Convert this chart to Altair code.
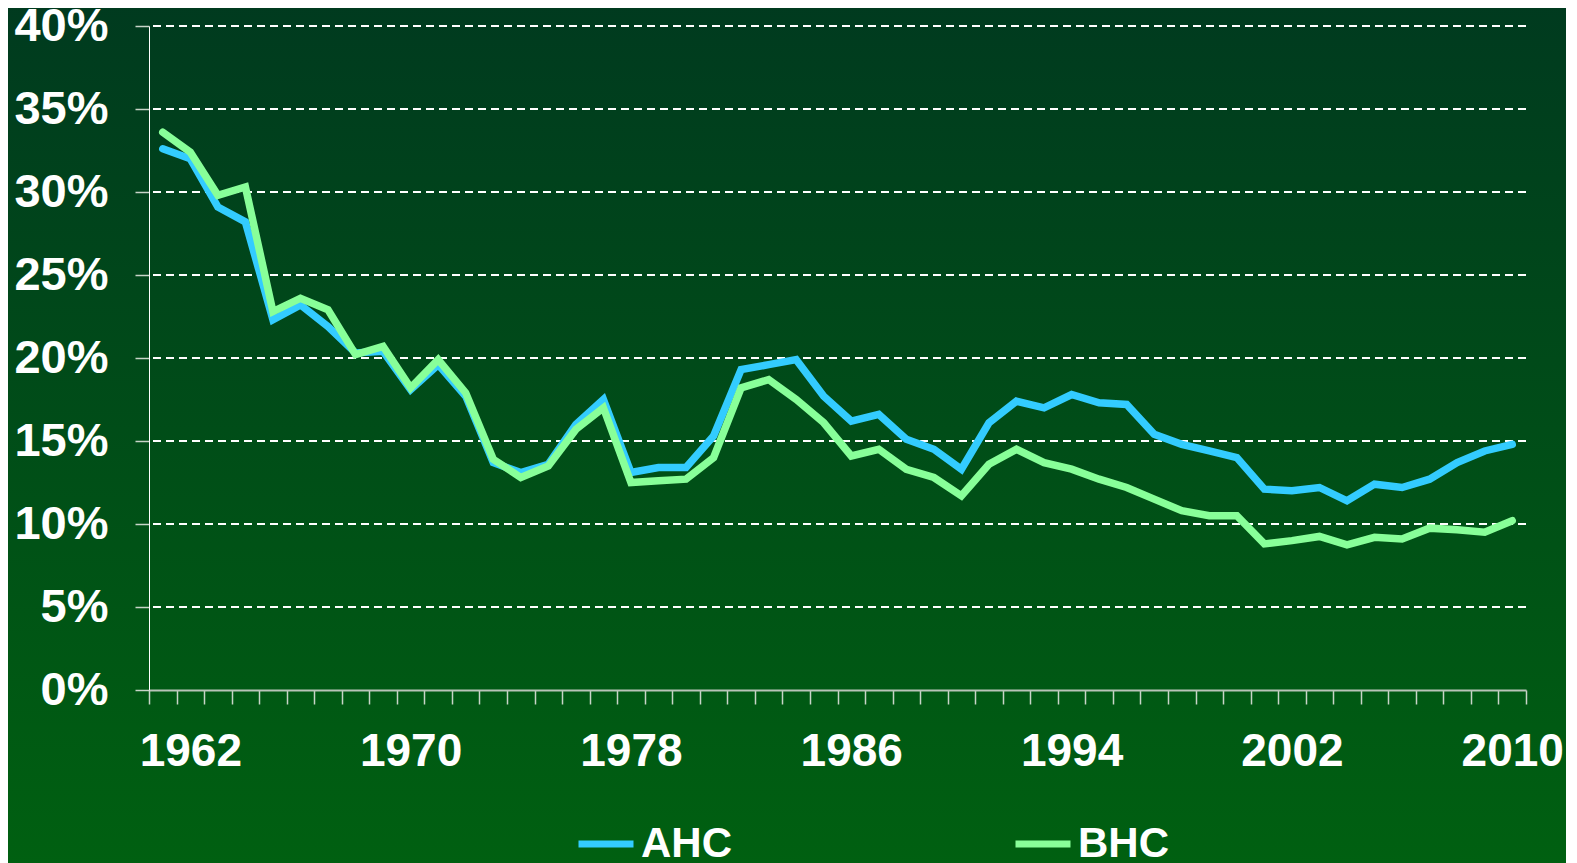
import altair as alt
import pandas as pd

years = list(range(1961, 2011))
ahc = [32.6, 32.0, 29.1, 28.2, 22.3, 23.2, 21.9, 20.3, 20.4, 18.1,
       19.6, 17.7, 13.7, 13.1, 13.6, 16.0, 17.5, 13.1, 13.4, 13.4,
       15.3, 19.3, 19.6, 19.9, 17.7, 16.2, 16.6, 15.1, 14.5, 13.3,
       16.1, 17.4, 17.0, 17.8, 17.3, 17.2, 15.4, 14.8, 14.4, 14.0,
       12.1, 12.0, 12.2, 11.4, 12.4, 12.2, 12.7, 13.7, 14.4, 14.8]
bhc = [33.6, 32.4, 29.8, 30.3, 22.8, 23.6, 22.9, 20.2, 20.7, 18.2,
       19.9, 17.9, 13.9, 12.8, 13.5, 15.7, 17.0, 12.5, 12.6, 12.7,
       14.0, 18.2, 18.7, 17.5, 16.1, 14.1, 14.5, 13.3, 12.8, 11.7,
       13.6, 14.5, 13.7, 13.3, 12.7, 12.2, 11.5, 10.8, 10.5, 10.5,
       8.8, 9.0, 9.25, 8.75, 9.2, 9.1, 9.75, 9.65, 9.5, 10.2]
series = ["AHC", "BHC"]
colors = ["#33CCFF", "#88FF99"]
y_ticks = [0, 5, 10, 15, 20, 25, 30, 35, 40]
grid_values = [5, 10, 15, 20, 25, 30, 35, 40]

rows = []
for name, vals in zip(series, [ahc, bhc]):
    for yr, v in zip(years, vals):
        rows.append({"year": yr, "value": v, "series": name})
df = pd.DataFrame(rows)

W, H = 1377, 664
FONT = "Liberation Sans"

y_scale = alt.Scale(domain=[0, 40], nice=False, zero=True)
y_axis = alt.Axis(
    title=None, values=y_ticks, labelExpr="datum.value + '%'",
    zindex=1,
    labelFont=FONT, labelFontSize=47, labelFontWeight="bold",
    labelColor="white", labelPadding=27, labelBaseline="middle",
    tickSize=14, tickColor="#c8d4c8", tickWidth=1.5,
    domainColor="white", domainWidth=1, grid=False)

bg = alt.Chart(pd.DataFrame({"a": [0]})).mark_rect(
    color=alt.LinearGradient(
        gradient="linear",
        stops=[alt.GradientStop(color="#003a1f", offset=0),
               alt.GradientStop(color="#006210", offset=1)],
        x1=0, x2=0, y1=0, y2=1),
).encode(
    x=alt.value(-160), x2=alt.value(W + 60),
    y=alt.value(-30), y2=alt.value(H + 220),
)

grid = alt.Chart(pd.DataFrame({"value": grid_values})).mark_rule(
    color="white", strokeDash=[8, 5], strokeWidth=2.2
).encode(
    y=alt.Y("value:Q", scale=y_scale, axis=y_axis),
)

lines = alt.Chart(df).mark_line(strokeWidth=7.5, strokeCap="round", strokeJoin="miter").encode(
    x=alt.X("year:O",
            scale=alt.Scale(type="band", paddingInner=0, paddingOuter=0),
            axis=alt.Axis(
                title=None, labelAngle=0, tickBand="extent", zindex=1,
                labelExpr="(toNumber(datum.value) - 1962) % 8 == 0 ? datum.label : ''",
                labelOverlap=False, labelFont=FONT, labelFontSize=46,
                labelFontWeight="bold", labelColor="white",
                labelBaseline="alphabetic", labelPadding=61, labelFlush=False,
                tickSize=14, tickColor="#c8d4c8", tickWidth=1.5,
                domainColor="#b8c4b8", domainWidth=2, grid=False)),
    y=alt.Y("value:Q", scale=y_scale, axis=y_axis),
    color=alt.Color("series:N",
                    scale=alt.Scale(domain=series, range=colors),
                    legend=alt.Legend(
                        title=None, orient="none", legendX=426, legendY=787,
                        direction="horizontal", columns=2, columnPadding=269,
                        symbolType="stroke", symbolStrokeWidth=7, symbolSize=3025,
                        labelFont=FONT, labelFontSize=42, labelFontWeight="bold",
                        labelColor="white", labelOffset=4, padding=0)),
    order=alt.Order("year:O"),
)

chart = alt.layer(bg, grid, lines).properties(
    width=W, height=H,
    autosize=alt.AutoSizeParams(type="none"),
    padding={"left": 141, "top": 18, "right": 40, "bottom": 185},
    background="#004f18",
).configure_view(stroke=None)

chart.save("out.html", embed_options={"renderer": "svg", "actions": False})
